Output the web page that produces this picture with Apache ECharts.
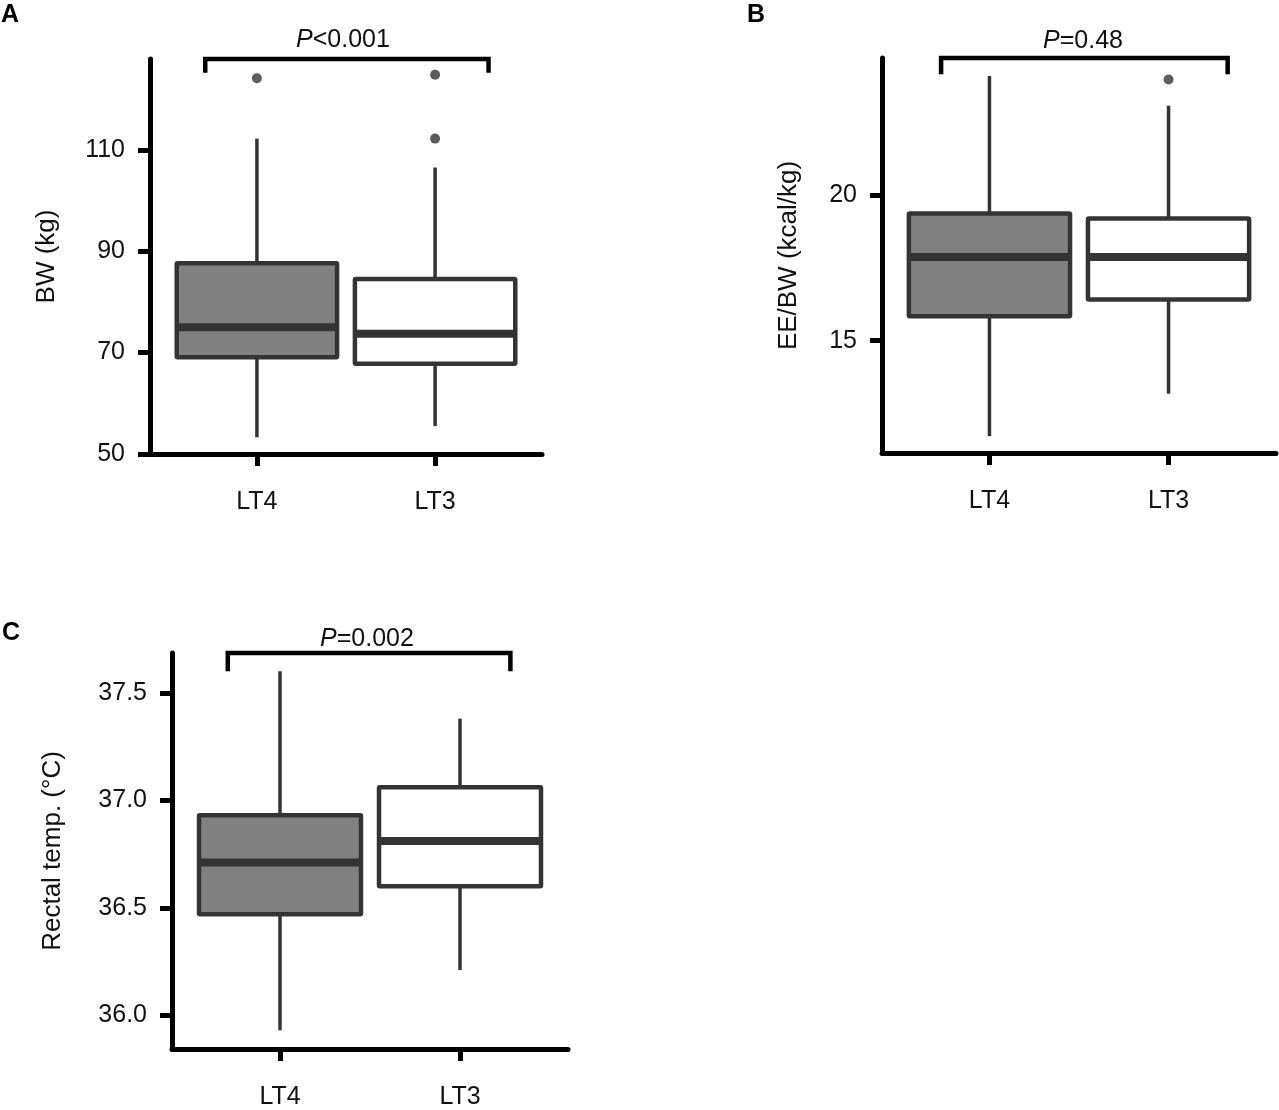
<!DOCTYPE html>
<html>
<head>
<meta charset="utf-8">
<script src="https://cdn.jsdelivr.net/npm/echarts@6/dist/echarts.min.js"></script>
<style>
  html, body { margin: 0; padding: 0; background: #fff; }
  #main { width: 1279px; height: 1110px; }
</style>
</head>
<body>
<div id="main"></div>
<script>
// groups on the x axis
const groups = ["LT4", "LT3"];

// box stats per group: [low whisker, Q1, median, Q3, high whisker]
const bwBoxes = [[53.3, 69.1, 75.0, 87.6, 112.2], [55.5, 67.8, 73.7, 84.5, 106.5]];
const bwOutliers = [[0, 124.1], [1, 124.8], [1, 112.2]];
const bwTicks = [50, 70, 90, 110];

const eeBoxes = [[11.72, 15.84, 17.88, 19.37, 24.1], [13.18, 16.42, 17.88, 19.2, 23.08]];
const eeOutliers = [[1, 23.98]];
const eeTicks = [15, 20];

const tempBoxes = [[35.93, 36.47, 36.71, 36.93, 37.6], [36.21, 36.6, 36.81, 37.06, 37.38]];
const tempOutliers = [];
const tempTicks = [36.0, 36.5, 37.0, 37.5];

const pValues = ["<0.001", "=0.48", "=0.002"];

const FONT = "'Liberation Sans', Arial, sans-serif";
const BOX_W = 0.9;

const panels = [
  { letter: "A", name: "BW (kg)", boxes: bwBoxes, outliers: bwOutliers, ticks: bwTicks, digits: 0,
    grid: { left: 150, top: 59, width: 392, height: 395 }, yMin: 50, yMax: 127.9, nameGap: 90,
    bracket: [-0.29, 1.30, 125.2], pPos: [343, 28], letterPos: [1, 3] },
  { letter: "B", name: "EE/BW (kcal/kg)", boxes: eeBoxes, outliers: eeOutliers, ticks: eeTicks, digits: 0,
    grid: { left: 882, top: 58, width: 394, height: 395 }, yMin: 11.14, yMax: 24.72, nameGap: 80,
    bracket: [-0.27, 1.33, 24.16], pPos: [1083, 29], letterPos: [747, 3] },
  { letter: "C", name: "Rectal temp. (\u00b0C)", boxes: tempBoxes, outliers: tempOutliers, ticks: tempTicks, digits: 1,
    grid: { left: 172, top: 653, width: 396, height: 398 }, yMin: 35.843, yMax: 37.685, nameGap: 106,
    bracket: [-0.29, 1.28, 37.6], pPos: [367, 627], letterPos: [2, 621] }
];

function renderBox(params, api) {
  const x = api.value(0);
  const lo = api.coord([x, api.value(1)]);
  const q1 = api.coord([x, api.value(2)]);
  const med = api.coord([x, api.value(3)]);
  const q3 = api.coord([x, api.value(4)]);
  const hi = api.coord([x, api.value(5)]);
  const w = api.size([BOX_W, 0])[0];
  const fill = x === 0 ? "#808080" : "#ffffff";
  const stroke = "#343434";
  return {
    type: "group",
    children: [
      { type: "line", shape: { x1: hi[0], y1: hi[1], x2: q3[0], y2: q3[1] }, style: { stroke, lineWidth: 3.5 } },
      { type: "line", shape: { x1: lo[0], y1: lo[1], x2: q1[0], y2: q1[1] }, style: { stroke, lineWidth: 3.5 } },
      { type: "rect", shape: { x: q3[0] - w / 2, y: q3[1], width: w, height: q1[1] - q3[1], r: 1 },
        style: { fill, stroke, lineWidth: 4.5 } },
      { type: "line", shape: { x1: med[0] - w / 2, y1: med[1], x2: med[0] + w / 2, y2: med[1] },
        style: { stroke, lineWidth: 8 } }
    ]
  };
}

const option = { backgroundColor: "#fff", animation: false, title: [], grid: [], xAxis: [], yAxis: [], series: [] };

panels.forEach((p, i) => {
  option.grid.push(p.grid);
  option.xAxis.push({
    type: "value", gridIndex: i, min: -0.6, max: 1.6,
    splitLine: { show: false },
    axisLine: { onZero: false, lineStyle: { color: "#000", width: 5 } },
    axisTick: { customValues: [0, 1], length: 12, lineStyle: { color: "#000", width: 5 } },
    axisLabel: { customValues: [0, 1], formatter: v => groups[Math.round(v)], margin: 36,
      color: "#111", fontSize: 25, fontFamily: FONT }
  });
  option.yAxis.push({
    type: "value", gridIndex: i, min: p.yMin, max: p.yMax,
    name: p.name, nameLocation: "middle", nameGap: p.nameGap,
    nameTextStyle: { color: "#111", fontSize: 26, fontFamily: FONT },
    splitLine: { show: false },
    axisLine: { onZero: false, lineStyle: { color: "#000", width: 5 } },
    axisTick: { customValues: p.ticks, length: 12, lineStyle: { color: "#000", width: 5 } },
    axisLabel: { customValues: p.ticks, formatter: v => v.toFixed(p.digits), margin: 25,
      color: "#111", fontSize: 25, fontFamily: FONT }
  });
  option.series.push({
    type: "custom", xAxisIndex: i, yAxisIndex: i, clip: false,
    renderItem: renderBox,
    encode: { x: 0, y: [1, 2, 3, 4, 5] },
    data: p.boxes.map((b, k) => [k].concat(b)),
    z: 2
  });
  option.series.push({
    type: "scatter", xAxisIndex: i, yAxisIndex: i, symbolSize: 10,
    itemStyle: { color: "#343434" }, data: p.outliers, z: 3
  });
  const [bx0, bx1, arm] = p.bracket;
  option.series.push({
    type: "line", xAxisIndex: i, yAxisIndex: i, clip: false, symbol: "none",
    lineStyle: { color: "#000", width: 4.5, cap: "butt", join: "miter" },
    data: [[bx0, arm], [bx0, p.yMax], [bx1, p.yMax], [bx1, arm]], z: 4
  });
  option.title.push({
    text: "{i|P}" + pValues[i], left: p.pPos[0], top: p.pPos[1], textAlign: "center", padding: 0,
    textStyle: { fontSize: 25, fontWeight: "normal", color: "#111", fontFamily: FONT,
      rich: { i: { fontSize: 25, fontStyle: "italic", color: "#111", fontFamily: FONT } } }
  });
  option.title.push({
    text: p.letter, left: p.letterPos[0], top: p.letterPos[1], padding: 0,
    textStyle: { fontSize: 25, fontWeight: "bold", color: "#000", fontFamily: FONT }
  });
});

document.addEventListener("DOMContentLoaded", function() {
  const chart = echarts.init(document.querySelector("#main"));
  chart.setOption(option);
});
</script>
</body>
</html>
